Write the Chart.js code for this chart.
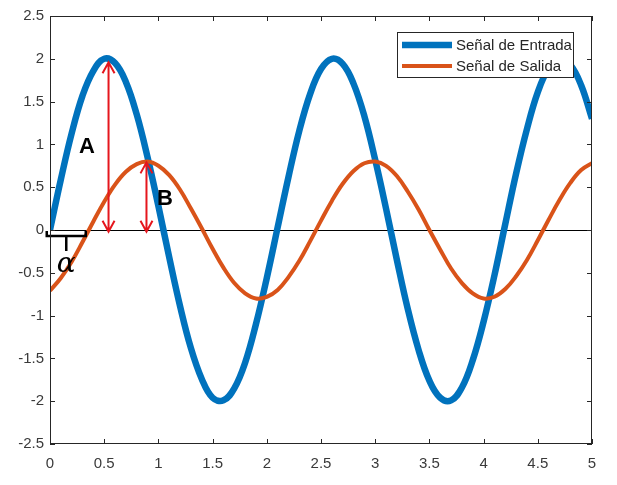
<!DOCTYPE html>
<html>
<head>
<meta charset="utf-8">
<script src="https://cdn.jsdelivr.net/npm/chart.js@4"></script>
<style>
  html, body { margin: 0; padding: 0; background: #fff; }
  #wrap { width: 617px; height: 485px; }
</style>
</head>
<body>
<div id="wrap"><canvas id="myChart" width="617" height="485"></canvas></div>
<script>
// tiempo (s)
var tiempo = [0, 0.1, 0.2, 0.3, 0.4, 0.5, 0.6, 0.7, 0.8, 0.9,
  1, 1.1, 1.2, 1.3, 1.4, 1.5, 1.6, 1.7, 1.8, 1.9,
  2, 2.1, 2.2, 2.3, 2.4, 2.5, 2.6, 2.7, 2.8, 2.9,
  3, 3.1, 3.2, 3.3, 3.4, 3.5, 3.6, 3.7, 3.8, 3.9,
  4, 4.1, 4.2, 4.3, 4.4, 4.5, 4.6, 4.7, 4.8, 4.9, 5];

var entrada = [0, 0.59, 1.13, 1.57, 1.86, 2.00, 1.95, 1.73, 1.35, 0.85,
  0.28, -0.32, -0.89, -1.38, -1.74, -1.96, -1.99, -1.85, -1.55, -1.10,
  -0.56, 0.03, 0.62, 1.16, 1.59, 1.88, 2.00, 1.94, 1.71, 1.33,
  0.82, 0.25, -0.35, -0.92, -1.40, -1.76, -1.96, -1.99, -1.84, -1.52,
  -1.07, -0.53, 0.07, 0.66, 1.18, 1.61, 1.89, 2.00, 1.93, 1.69, 1.30];

var salida = [-0.71, -0.56, -0.37, -0.14, 0.10, 0.33, 0.53, 0.68, 0.77, 0.80,
  0.75, 0.64, 0.47, 0.25, 0.02, -0.22, -0.44, -0.62, -0.74, -0.80,
  -0.78, -0.70, -0.55, -0.36, -0.13, 0.11, 0.34, 0.54, 0.69, 0.78,
  0.80, 0.75, 0.63, 0.45, 0.24, 0.00, -0.23, -0.45, -0.62, -0.74,
  -0.80, -0.78, -0.69, -0.54, -0.35, -0.12, 0.12, 0.35, 0.55, 0.70, 0.78];

var nombres = ['Señal de Entrada', 'Señal de Salida'];

// flechas A y B (x, y desde, y hasta) y etiquetas
var flechas = [[0.54, -0.02, 1.96], [0.89, -0.02, 0.79]];
var etiquetas = [['A', 0.34, 0.97], ['B', 1.06, 0.36]];
var alfa = [-0.03, 0.33, -0.07];

function pts(ys) {
  return tiempo.map(function (t, i) { return { x: t, y: ys[i] }; });
}

var extras = {
  id: 'extras',
  afterDraw: function (chart) {
    var c = chart.ctx, a = chart.chartArea;
    var xs = chart.scales.x, ys = chart.scales.y;
    c.save();

    // flechas rojas
    c.strokeStyle = '#e5161d';
    c.lineWidth = 2;
    flechas.forEach(function (f) {
      var px = xs.getPixelForValue(f[0]);
      var p0 = ys.getPixelForValue(f[1]), p1 = ys.getPixelForValue(f[2]);
      c.beginPath();
      c.moveTo(px, p0); c.lineTo(px, p1);
      c.moveTo(px - 6, p1 + 11); c.lineTo(px, p1); c.lineTo(px + 6, p1 + 11);
      c.moveTo(px - 6, p0 - 11); c.lineTo(px, p0); c.lineTo(px + 6, p0 - 11);
      c.stroke();
    });

    c.fillStyle = '#000';
    c.font = 'bold 22px "Liberation Sans", Arial, sans-serif';
    c.textAlign = 'center';
    c.textBaseline = 'middle';
    etiquetas.forEach(function (e) {
      c.fillText(e[0], xs.getPixelForValue(e[1]), ys.getPixelForValue(e[2]));
    });

    // corchete alfa
    var bx0 = xs.getPixelForValue(alfa[0]), bx1 = xs.getPixelForValue(alfa[1]);
    var by = ys.getPixelForValue(alfa[2]);
    var bm = (bx0 + bx1) / 2;
    c.strokeStyle = '#000';
    c.lineWidth = 2.5;
    c.beginPath();
    c.moveTo(bx0, by - 5); c.lineTo(bx0, by); c.lineTo(bx1, by); c.lineTo(bx1, by - 5);
    c.moveTo(bm, by); c.lineTo(bm, by + 15);
    c.stroke();
    c.font = 'italic 28px "DejaVu Serif", "Liberation Serif", serif';
    c.fillText('\u03b1', bm, by + 29);

    // caja y marcas hacia dentro
    c.strokeStyle = '#262626';
    c.lineWidth = 1;
    c.strokeRect(a.left + 0.5, a.top + 0.5, a.right - a.left - 1, a.bottom - a.top - 1);
    c.beginPath();
    xs.ticks.forEach(function (t) {
      var px = Math.round(xs.getPixelForValue(t.value)) + 0.5;
      c.moveTo(px, a.bottom); c.lineTo(px, a.bottom - 5);
      c.moveTo(px, a.top); c.lineTo(px, a.top + 5);
    });
    ys.ticks.forEach(function (t) {
      var py = Math.round(ys.getPixelForValue(t.value)) + 0.5;
      c.moveTo(a.left, py); c.lineTo(a.left + 5, py);
      c.moveTo(a.right, py); c.lineTo(a.right - 5, py);
    });
    c.stroke();

    // leyenda
    var lx = a.right - 195, ly = a.top + 16, lw = 176, lh = 45;
    c.fillStyle = '#fff';
    c.fillRect(lx, ly, lw, lh);
    c.strokeRect(lx + 0.5, ly + 0.5, lw, lh);
    c.font = '15px "Liberation Sans", Arial, sans-serif';
    c.textAlign = 'left';
    chart.data.datasets.forEach(function (ds, i) {
      var yy = ly + 13 + i * 21;
      c.strokeStyle = ds.borderColor;
      c.lineWidth = ds.borderWidth;
      c.beginPath(); c.moveTo(lx + 5, yy); c.lineTo(lx + 55, yy); c.stroke();
      c.fillStyle = '#262626';
      c.fillText(ds.label, lx + 59, yy + 1);
    });
    c.restore();
  }
};

var ctx = document.getElementById('myChart');
var myChart = new Chart(ctx, {
  type: 'line',
  data: {
    datasets: [{
      label: nombres[0],
      data: pts(entrada),
      borderColor: '#0072bd',
      borderWidth: 6.5,
      pointRadius: 0,
      tension: 0.4,
      order: 1
    }, {
      label: nombres[1],
      data: pts(salida),
      borderColor: '#d95319',
      borderWidth: 4,
      pointRadius: 0,
      tension: 0.4,
      order: 0
    }]
  },
  options: {
    responsive: false,
    animation: false,
    layout: { padding: { top: 16, right: 25, left: 0, bottom: 0 } },
    scales: {
      x: {
        type: 'linear',
        min: 0, max: 5,
        border: { display: false },
        grid: { display: false, drawTicks: false },
        ticks: {
          stepSize: 0.5,
          padding: 11,
          color: '#3a3a3a',
          font: { family: '"Liberation Sans", Arial, sans-serif', size: 15 },
          callback: function (v) { return String(v); }
        },
        afterFit: function (s) { s.height = 41; }
      },
      y: {
        min: -2.5, max: 2.5,
        border: { display: false },
        grid: {
          drawTicks: false,
          color: function (c) { return c.tick && c.tick.value === 0 ? '#000' : 'rgba(0,0,0,0)'; },
          lineWidth: 1
        },
        ticks: {
          stepSize: 0.5,
          padding: 6,
          color: '#3a3a3a',
          font: { family: '"Liberation Sans", Arial, sans-serif', size: 15 },
          callback: function (v) { return String(v); }
        },
        afterFit: function (s) { s.width = 50; }
      }
    },
    plugins: {
      legend: { display: false },
      tooltip: { enabled: false }
    }
  },
  plugins: [extras]
});
</script>
</body>
</html>
